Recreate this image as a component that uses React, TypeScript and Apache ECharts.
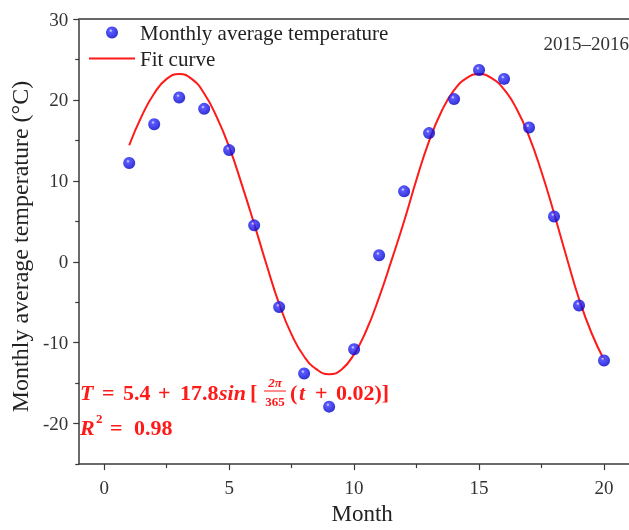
import React, { useEffect, useRef } from "react";
import * as echarts from "echarts";

const months = [1, 2, 3, 4, 5, 6, 7, 8, 9, 10, 11, 12, 13, 14, 15, 16, 17, 18, 19, 20];
const temps = [12.2, 17.0, 20.3, 18.9, 13.8, 4.5, -5.6, -13.8, -17.9, -10.8, 0.8, 8.7, 15.9, 20.1, 23.7, 22.6, 16.6, 5.6, -5.4, -12.2];

const fitX = [1, 1.5, 2, 2.5, 3, 3.5, 4, 4.5, 5, 5.5, 6, 6.5, 7, 7.5, 8, 8.5, 9, 9.5, 10, 10.5, 11, 11.5, 12, 12.5, 13, 13.5, 14, 14.5, 15, 15.5, 16, 16.5, 17, 17.5, 18, 18.5, 19, 19.5, 20];
const fitY = [14.4, 18.0, 20.8, 22.6, 23.2, 22.6, 20.8, 17.9, 14.2, 9.6, 4.7, -0.4, -5.2, -9.0, -11.7, -13.3, -13.9, -13.3, -11.4, -8.4, -4.4, 0.2, 5.0, 10.2, 14.9, 18.6, 21.2, 22.7, 23.2, 22.7, 21.3, 18.9, 15.5, 11.1, 6.0, 0.6, -4.6, -8.8, -12.1];

const xLabels = [0, 5, 10, 15, 20];
const xMinor = [2.5, 7.5, 12.5, 17.5];
const yLabels = [-20, -10, 0, 10, 20, 30];
const yMinor = [-25, -15, -5, 5, 15, 25];

const FONT = "'Liberation Serif', 'Times New Roman', serif";
const RED = "#ff1a1a";

export default function App() {
  const ref = useRef<HTMLDivElement>(null);
  useEffect(() => {
    if (!ref.current) return;
    const chart = echarts.init(ref.current, undefined, { renderer: "svg" });
    const axisLine = { show: true, onZero: false, lineStyle: { color: "#3a3a3a", width: 1.5 } };
    const sphere = {
      type: "radial",
      x: 0.4,
      y: 0.35,
      r: 0.65,
      colorStops: [
        { offset: 0, color: "#e8e8ff" },
        { offset: 0.22, color: "#3030ff" },
        { offset: 1, color: "#0000c8" },
      ],
    };
    const eqBase = { fill: RED, fontFamily: FONT, fontWeight: "bold", fontSize: 22, verticalAlign: "middle" };
    const ital = { ...eqBase, fontStyle: "italic" };
    chart.setOption({
      animation: false,
      grid: { left: 78, top: 19, right: -6, bottom: 63 },
      legend: {
        orient: "vertical",
        left: 88,
        top: 22,
        padding: 0,
        itemWidth: 46,
        itemHeight: 12,
        itemGap: 5,
        textStyle: { fontFamily: FONT, fontSize: 21, color: "#222" },
        data: [
          { name: "Monthly average temperature" },
          { name: "Fit curve", itemStyle: { opacity: 0 } },
        ],
      },
      xAxis: [
        {
          type: "value",
          min: -1,
          max: 21,
          position: "bottom",
          name: "Month",
          nameLocation: "middle",
          nameGap: 34,
          nameTextStyle: { fontFamily: FONT, fontSize: 23, color: "#222", padding: [0, 0, 0, 16] },
          axisLine,
          axisTick: { show: true, length: 6, customValues: xLabels, lineStyle: { color: "#3a3a3a", width: 1.2 } },
          axisLabel: { customValues: xLabels, fontFamily: FONT, fontSize: 19, color: "#333", margin: 14 },
          splitLine: { show: false },
        },
        {
          type: "value",
          min: -1,
          max: 21,
          position: "bottom",
          axisLine: { show: false, onZero: false },
          axisTick: { show: true, length: 4, customValues: xMinor, lineStyle: { color: "#3a3a3a", width: 1.2 } },
          axisLabel: { show: false },
          splitLine: { show: false },
        },
        {
          type: "value",
          min: -1,
          max: 21,
          position: "top",
          axisLine: { show: true, onZero: false, lineStyle: { color: "#666", width: 2 } },
          axisTick: { show: false },
          axisLabel: { show: false },
          splitLine: { show: false },
        },
      ],
      yAxis: [
        {
          type: "value",
          min: -25,
          max: 30,
          position: "left",
          name: "Monthly average temperature (°C)",
          nameLocation: "middle",
          nameGap: 36,
          nameTextStyle: { fontFamily: FONT, fontSize: 24, color: "#222", padding: [0, 10, 0, 0] },
          axisLine,
          axisTick: { show: true, length: 6, customValues: yLabels, lineStyle: { color: "#3a3a3a", width: 1.2 } },
          axisLabel: { customValues: yLabels, fontFamily: FONT, fontSize: 19, color: "#333", margin: 11 },
          splitLine: { show: false },
        },
        {
          type: "value",
          min: -25,
          max: 30,
          position: "left",
          axisLine: { show: false, onZero: false },
          axisTick: { show: true, length: 4, customValues: yMinor, lineStyle: { color: "#3a3a3a", width: 1.2 } },
          axisLabel: { show: false },
          splitLine: { show: false },
        },
      ],
      series: [
        {
          name: "Monthly average temperature",
          type: "scatter",
          xAxisIndex: 0,
          yAxisIndex: 0,
          symbol: "circle",
          symbolSize: 12,
          itemStyle: { color: sphere },
          data: months.map((m, i) => [m, temps[i]]),
          z: 3,
        },
        {
          name: "Fit curve",
          type: "line",
          xAxisIndex: 0,
          yAxisIndex: 0,
          smooth: true,
          symbol: "none",
          showSymbol: false,
          lineStyle: { color: RED, width: 2 },
          itemStyle: { color: RED },
          data: fitX.map((x, i) => [x, fitY[i]]),
          z: 2,
        },
      ],
      graphic: [
        {
          type: "text",
          right: 0,
          top: 34,
          style: { text: "2015–2016", fontFamily: FONT, fontSize: 19, fill: "#333" },
        },
        { type: "text", x: 80, y: 392, style: { ...ital, text: "T" } },
        { type: "text", x: 102, y: 392, style: { ...eqBase, text: "=" } },
        { type: "text", x: 123, y: 392, style: { ...eqBase, text: "5.4" } },
        { type: "text", x: 158, y: 392, style: { ...eqBase, text: "+" } },
        { type: "text", x: 180, y: 392, style: { ...eqBase, text: "17.8" } },
        { type: "text", x: 219, y: 392, style: { ...ital, text: "sin" } },
        { type: "text", x: 250, y: 392, style: { ...eqBase, text: "[" } },
        { type: "text", x: 275, y: 382, style: { ...ital, fontSize: 13, text: "2π", align: "center" } },
        { type: "line", shape: { x1: 264, y1: 391, x2: 286, y2: 391 }, style: { stroke: RED, lineWidth: 1 } },
        { type: "text", x: 275, y: 401, style: { ...eqBase, fontSize: 13, text: "365", align: "center" } },
        { type: "text", x: 290, y: 392, style: { ...eqBase, text: "(" } },
        { type: "text", x: 299, y: 392, style: { ...ital, text: "t" } },
        { type: "text", x: 315, y: 392, style: { ...eqBase, text: "+" } },
        { type: "text", x: 336, y: 392, style: { ...eqBase, text: "0.02)]" } },
        { type: "text", x: 80, y: 427, style: { ...ital, text: "R" } },
        { type: "text", x: 96, y: 418, style: { ...eqBase, fontSize: 13, text: "2" } },
        { type: "text", x: 110, y: 427, style: { ...eqBase, text: "=" } },
        { type: "text", x: 134, y: 427, style: { ...eqBase, text: "0.98" } },
      ],
    });
    return () => chart.dispose();
  }, []);
  return <div ref={ref} style={{ position: "fixed", left: 0, top: 0, width: 629, height: 530 }} />;
}
